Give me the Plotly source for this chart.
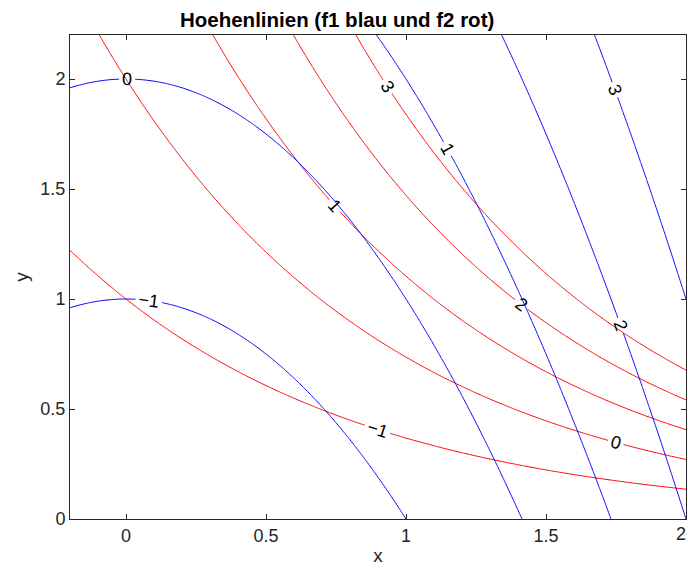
import numpy as np
import plotly.graph_objects as go

# Grid and contour levels
x_range = [-0.2, 2.0]
y_range = [0.0, 2.2]
levels = [-1, 0, 1, 2, 3]
x_ticks = [0, 0.5, 1, 1.5, 2]
x_ticklabels = ["0", "0.5", "1", "1.5", "2"]
y_ticks = [0, 0.5, 1, 1.5, 2]
y_ticklabels = ["0", "0.5", "1", "1.5", "2"]

xs = np.linspace(x_range[0], x_range[1], 301)
ys = np.linspace(y_range[0], y_range[1], 301)
X, Y = np.meshgrid(xs, ys)
F1 = X**2 + Y - 2          # f1 (blue)
F2 = Y * np.exp(X) - 2     # f2 (red)

FONT = "Liberation Sans, Arial, Helvetica, sans-serif"
AX = "#262626"

def contour(z, color):
    return go.Contour(
        x=xs, y=ys, z=z,
        contours=dict(start=levels[0], end=levels[-1], size=1,
                      coloring="lines", showlabels=True,
                      labelfont=dict(size=18, color="black", family=FONT)),
        colorscale=[[0, color], [1, color]],
        line=dict(width=1),
        showscale=False,
        hoverinfo="skip",
    )

fig = go.Figure([contour(F2, "red"), contour(F1, "blue")])

axis_common = dict(
    showgrid=False, zeroline=False, showline=True, linecolor=AX,
    linewidth=1, mirror="ticks", ticks="inside", ticklen=5, tickcolor=AX,
    tickfont=dict(size=18, color=AX, family=FONT), automargin=False,
)
fig.update_xaxes(range=x_range, tickvals=x_ticks, ticktext=x_ticklabels,
                 title=dict(text="x", font=dict(size=19, color=AX), standoff=4),
                 **axis_common)
fig.update_yaxes(range=y_range, tickvals=y_ticks, ticktext=y_ticklabels,
                 title=dict(text="y", font=dict(size=19, color=AX), standoff=6),
                 **axis_common)

# last x tick label sits on the figure edge (plotly drops it), draw it as text
fig.add_annotation(x=x_ticks[-1], xref="x", y=0, yref="paper", text=x_ticklabels[-1],
                   showarrow=False, xanchor="right", xshift=2, yanchor="top", yshift=-3,
                   font=dict(size=18, color=AX, family=FONT))

fig.update_layout(
    width=688, height=575,
    margin=dict(l=70, r=2, t=35, b=56, autoexpand=False),
    plot_bgcolor="white", paper_bgcolor="white",
    font=dict(family=FONT, color=AX),
    title=dict(text="<b>Hoehenlinien (f1 blau und f2 rot)</b>", x=0.49, xanchor="center",
               y=0.965, yanchor="middle", font=dict(size=20.5, color="black", family=FONT)),
    showlegend=False,
)

fig.write_html("out.html", config={"displayModeBar": False},
               post_script="document.body.style.margin='0';document.body.style.overflow='hidden';")
